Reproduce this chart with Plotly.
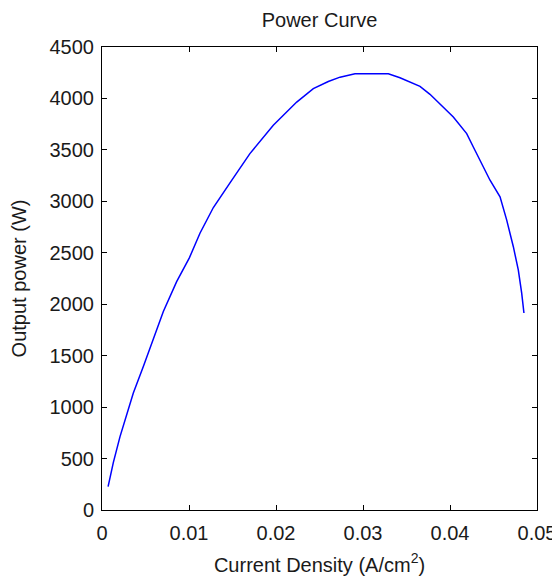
import plotly.graph_objects as go

current_density = [0.0007, 0.0013, 0.00207, 0.0036, 0.00475, 0.0059, 0.00705, 0.00858, 0.01004,
                   0.01126, 0.0128, 0.01471, 0.0170, 0.01969, 0.02238, 0.02429, 0.02506, 0.02601,
                   0.02736, 0.02908, 0.03291, 0.03425, 0.03655, 0.0377, 0.04038, 0.04192, 0.04268,
                   0.04337, 0.0446, 0.04575, 0.04652, 0.04728, 0.04785, 0.04824, 0.0485]
output_power = [228, 460, 713, 1137, 1395, 1654, 1930, 2219, 2450,
                2690, 2940, 3180, 3464, 3739, 3965, 4095, 4127, 4165,
                4207, 4240, 4240, 4201, 4117, 4040, 3819, 3658, 3528,
                3416, 3205, 3043, 2817, 2559, 2333, 2107, 1915]

fig = go.Figure()
fig.add_trace(go.Scatter(x=current_density, y=output_power, mode="lines",
                         line=dict(color="#0000FF", width=1.5)))

font_family = "Liberation Sans, Arial, sans-serif"
text_color = "#1a1a1a"
axis_common = dict(showline=True, linecolor="black", linewidth=1, mirror="ticks",
                   ticks="inside", ticklen=5, tickcolor="black", tickwidth=1,
                   showgrid=False, zeroline=False, automargin=False,
                   tickfont=dict(family=font_family, size=20, color=text_color))

fig.update_layout(
    width=552, height=572,
    margin=dict(l=94, r=23, t=39, b=70),
    paper_bgcolor="white", plot_bgcolor="white",
    showlegend=False,
    title=dict(text="Power Curve", x=0.5, xref="paper", xanchor="center",
               y=0.9785, yref="container", yanchor="middle",
               font=dict(family=font_family, size=20, color=text_color)),
    xaxis=dict(range=[0, 0.05], dtick=0.01, tick0=0, ticklabelstandoff=5,
               title=dict(text="Current Density (A/cm<sup>2</sup>)", standoff=14,
                          font=dict(family=font_family, size=20, color=text_color)),
               **axis_common),
    yaxis=dict(range=[0, 4500], dtick=500, tick0=0, ticklabelstandoff=3,
               title=dict(text="Output power (W)", standoff=20,
                          font=dict(family=font_family, size=20, color=text_color)),
               **axis_common),
)

fig.write_html("out.html")
